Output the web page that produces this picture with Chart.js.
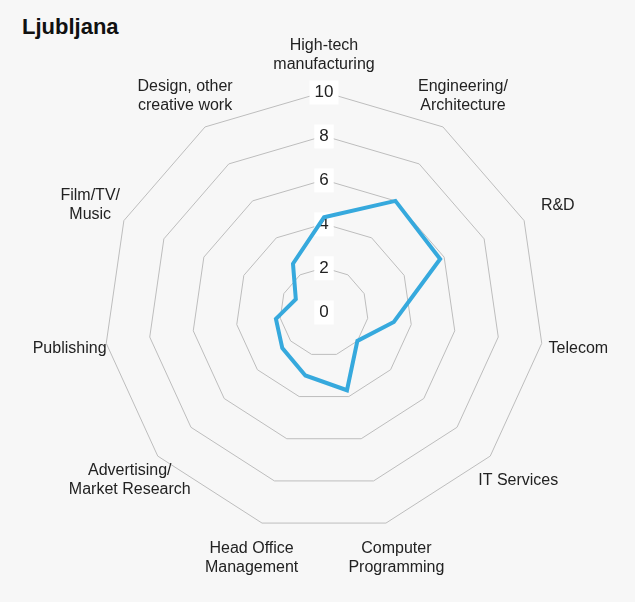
<!DOCTYPE html>
<html>
<head>
<meta charset="utf-8">
<script src="https://cdn.jsdelivr.net/npm/chart.js@4/dist/chart.umd.min.js"></script>
<style>
  html, body { margin: 0; padding: 0; background: #f7f7f7; }
  #wrap { position: relative; width: 635px; height: 602px; }
  #title { position: absolute; left: 22px; top: 14px; font: bold 22px "Liberation Sans", Arial, sans-serif; color: #111; }
  canvas { position: absolute; left: 0; top: 0; }
</style>
</head>
<body>
<div id="wrap">
  <div id="title">Ljubljana</div>
  <canvas id="chartRadar" width="635" height="602"></canvas>
</div>
<script>
const categories = [
  ['High-tech', 'manufacturing'],
  ['Engineering/', 'Architecture'],
  'R&D',
  'Telecom',
  'IT Services',
  ['Computer', 'Programming'],
  ['Head Office', 'Management'],
  ['Advertising/', 'Market Research'],
  'Publishing',
  ['Film/TV/', 'Music'],
  ['Design, other', 'creative work']
];
const ljubljana = [4.3, 6.0, 5.8, 3.2, 2.0, 3.7, 3.0, 2.5, 2.2, 1.4, 2.6];
const tickMax = 10;
const tickStep = 2;

const FONT = '"Liberation Sans", Arial, sans-serif';
const ctx = () => document.getElementById('chartRadar');

// labels centred on a point a fixed distance outside the outer ring
const centeredPointLabels = {
  id: 'centeredPointLabels',
  afterDraw(chart) {
    const scale = chart.scales.r;
    const c = chart.ctx;
    const lineH = 19;
    c.save();
    c.font = '16px ' + FONT;
    c.fillStyle = '#222';
    c.textAlign = 'center';
    c.textBaseline = 'middle';
    categories.forEach((lab, i) => {
      const lines = [].concat(lab);
      const p = scale.getPointPosition(i, scale.drawingArea + 37);
      lines.forEach((ln, k) => {
        c.fillText(ln, p.x, p.y + (k - (lines.length - 1) / 2) * lineH);
      });
    });
    c.restore();
  }
};

new Chart(ctx(), {
  type: 'radar',
  data: {
    labels: categories,
    datasets: [{
      label: 'Ljubljana',
      data: ljubljana,
      borderColor: '#36a9dd',
      borderWidth: 4,
      backgroundColor: 'transparent',
      fill: false,
      pointRadius: 0,
      pointHoverRadius: 0,
      tension: 0
    }]
  },
  options: {
    responsive: false,
    animation: false,
    layout: { padding: { top: 80, bottom: 58, left: 80, right: 67 } },
    plugins: { legend: { display: false }, tooltip: { enabled: false } },
    scales: {
      r: {
        min: -0.01,
        max: tickMax,
        angleLines: { display: false },
        grid: { color: '#bdbdbd', lineWidth: 1, circular: false },
        ticks: {
          stepSize: tickStep,
          color: '#222',
          font: { family: FONT, size: 17 },
          backdropColor: '#ffffff',
          backdropPadding: { left: 5, right: 5, top: 3, bottom: 4 },
          showLabelBackdrop: true,
          callback: v => Math.round(v)
        },
        pointLabels: { display: false }
      }
    }
  },
  plugins: [centeredPointLabels]
});
</script>
</body>
</html>
